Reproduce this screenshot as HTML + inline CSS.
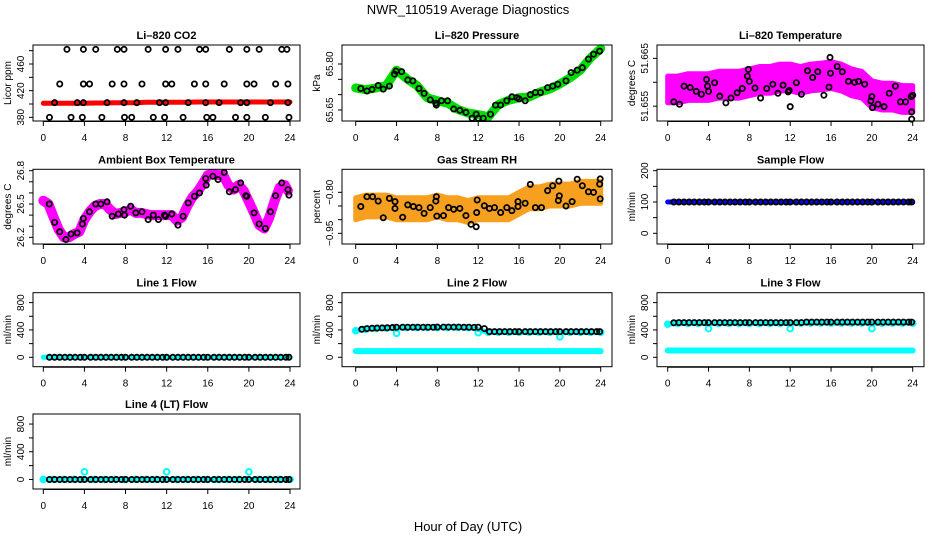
<!DOCTYPE html>
<html><head><meta charset="utf-8"><style>
html,body{margin:0;padding:0;background:#fff}
svg{display:block;font-family:"Liberation Sans",sans-serif}
</style></head><body>
<svg id="c" width="936" height="540" xmlns="http://www.w3.org/2000/svg">
<text x="468" y="14" text-anchor="middle" font-size="13">NWR_110519  Average Diagnostics</text>
<text x="468" y="531" text-anchor="middle" font-size="13">Hour of Day (UTC)</text>
</svg>
<script>
// ---- data ----
const xTicks=[0,4,8,12,16,20,24];
const co2Hours=[2.3,3.9,5.1,7.2,7.85,10.2,11.9,13.1,15.2,15.8,18.1,19.8,21.0,23.2,23.7,1.6,3.9,4.5,6.7,7.85,9.6,11.9,12.5,14.7,15.8,17.6,19.8,20.5,22.6,23.8,1.1,3.3,3.9,6.2,7.85,9.1,11.3,11.9,14.1,15.8,17.1,19.2,19.8,22.1,23.8,0.6,2.7,3.8,5.7,7.9,8.6,10.7,11.8,13.6,15.9,16.5,18.7,19.8,21.6,23.9];
const co2Vals=[482,482,482,482,482,482,482,482,482,482,482,482,482,482,482,430,430,430,430,430,430,430,430,430,430,430,430,430,430,430,402,402,402,402,402,402,402,402,402,402,402,402,402,402,402,380,380,380,380,380,380,380,380,380,380,380,380,380,380,380];
const hourly=[0,1,2,3,4,5,6,7,8,9,10,11,12,13,14,15,16,17,18,19,20,21,22,23,24];
const co2Cloud=[401,401,401,401,401,401.5,401.5,402,402,402,402.5,402.5,402.5,402.5,402.5,403,403,403,403,403,403,403,403,403,403];
const presHours=[0.5,1.1,1.6,2.2,2.7,3.3,3.8,3.95,4.5,5.1,5.6,6.2,6.7,7.3,7.85,7.9,8.4,9.0,9.6,10.2,10.8,11.4,11.8,12.0,12.5,13.2,13.7,14.2,14.8,15.3,15.8,16.0,16.6,17.1,17.6,18.1,18.8,19.3,19.8,20.6,21.1,21.7,22.2,22.8,23.3,23.9];
const presVals=[65.72,65.712,65.717,65.73,65.718,65.728,65.767,65.777,65.775,65.748,65.745,65.72,65.704,65.683,65.672,65.666,65.68,65.68,65.653,65.649,65.642,65.623,65.636,65.623,65.623,65.636,65.666,65.666,65.68,65.693,65.69,65.686,65.68,65.70,65.707,65.707,65.723,65.728,65.734,65.745,65.772,65.78,65.788,65.816,65.832,65.842];
const presCloud=[65.722,65.716,65.722,65.73,65.78,65.752,65.73,65.69,65.68,65.672,65.652,65.64,65.635,65.628,65.668,65.682,65.69,65.692,65.708,65.718,65.735,65.755,65.78,65.82,65.85];
const tempHours=[0.6,1.15,1.6,2.2,2.8,3.3,3.8,3.9,4.0,4.6,5.1,5.7,6.2,6.8,7.3,7.8,7.9,8.0,8.55,9.1,9.7,10.3,10.8,11.3,11.8,11.9,12.0,12.6,13.1,13.7,14.2,14.7,15.3,15.8,15.9,15.95,16.6,17.1,17.7,18.3,18.7,19.3,19.9,20.0,20.05,20.6,21.2,21.7,22.3,22.8,23.3,23.85,23.9,23.9,24.0];
const tempVals=[51.6559,51.6554,51.6592,51.6589,51.6581,51.6575,51.6606,51.6592,51.6581,51.6599,51.6571,51.6557,51.6567,51.6578,51.6587,51.6613,51.6627,51.6602,51.6588,51.6567,51.6587,51.6596,51.6577,51.6594,51.658,51.6583,51.6549,51.6599,51.6575,51.6624,51.661,51.6622,51.6573,51.659,51.6652,51.6619,51.6633,51.6622,51.6602,51.66,51.6602,51.6596,51.6561,51.657,51.6547,51.6554,51.6549,51.6577,51.6592,51.6559,51.6559,51.657,51.6538,51.6523,51.6573];
const tempCloud=[51.6585,51.6585,51.659,51.659,51.659,51.6595,51.6595,51.6595,51.66,51.6605,51.6605,51.661,51.661,51.6605,51.661,51.6612,51.6615,51.661,51.66,51.6595,51.6575,51.657,51.657,51.6565,51.6565];
const ambHours=[0.58,1.1,1.6,2.2,2.7,3.3,3.8,3.9,4.5,5.1,5.6,6.2,6.7,7.3,7.85,7.9,8.5,9.0,9.6,10.2,10.7,11.2,11.8,11.9,12.5,13.1,13.6,14.1,14.7,15.2,15.8,15.85,16.5,17.0,17.6,18.1,18.7,19.2,19.7,19.8,20.5,21.0,21.6,22.1,22.6,23.2,23.8,23.9];
const ambVals=[26.5,26.335,26.25,26.18,26.23,26.24,26.32,26.37,26.43,26.5,26.5,26.52,26.39,26.41,26.45,26.4,26.48,26.42,26.43,26.36,26.4,26.36,26.4,26.39,26.41,26.31,26.39,26.51,26.57,26.6,26.73,26.67,26.75,26.72,26.785,26.61,26.63,26.69,26.575,26.57,26.42,26.32,26.28,26.43,26.575,26.69,26.63,26.58];
const ambCloudHours=[0,0.5,1,1.5,2,2.5,3,3.5,4,4.5,5,5.5,6,6.5,7,7.5,8,8.5,9,9.5,10,10.5,11,11.5,12,12.5,13,13.5,14,14.5,15,15.5,16,16.5,17,17.5,18,18.5,19,19.5,20,20.5,21,21.5,22,22.5,23,23.5,23.8];
const ambCloud=[26.53,26.5,26.38,26.27,26.2,26.2,26.23,26.25,26.36,26.43,26.48,26.5,26.5,26.45,26.41,26.42,26.43,26.45,26.42,26.42,26.41,26.4,26.4,26.4,26.4,26.4,26.35,26.38,26.48,26.56,26.61,26.68,26.76,26.77,26.76,26.76,26.67,26.63,26.67,26.62,26.52,26.42,26.31,26.28,26.38,26.53,26.65,26.67,26.62];
const rhHours=[0.5,1.1,1.65,2.2,2.7,3.3,3.85,3.85,4.6,5.1,5.65,6.2,6.7,7.3,7.85,7.9,7.95,8.6,9.1,9.6,10.2,10.8,11.3,11.8,11.9,11.85,12.6,13.1,13.6,14.2,14.8,15.3,15.9,15.9,16.6,17.1,17.6,18.2,18.8,19.3,19.9,19.95,19.85,20.6,21.2,21.7,22.2,22.8,23.3,23.9,23.95,23.95];
const rhVals=[-0.852,-0.816,-0.816,-0.832,-0.893,-0.822,-0.834,-0.859,-0.891,-0.846,-0.852,-0.856,-0.877,-0.856,-0.832,-0.816,-0.887,-0.885,-0.856,-0.862,-0.859,-0.885,-0.917,-0.926,-0.828,-0.874,-0.849,-0.859,-0.856,-0.874,-0.856,-0.867,-0.834,-0.852,-0.84,-0.771,-0.856,-0.856,-0.794,-0.776,-0.759,-0.813,-0.83,-0.85,-0.834,-0.752,-0.776,-0.798,-0.8,-0.77,-0.751,-0.824];
const rhCloud=[-0.86,-0.85,-0.85,-0.85,-0.86,-0.86,-0.86,-0.86,-0.85,-0.86,-0.86,-0.87,-0.86,-0.86,-0.86,-0.86,-0.84,-0.82,-0.82,-0.81,-0.81,-0.81,-0.8,-0.8,-0.8];
const flowHours=[0.6,1.1,1.6,2.1,2.6,3.1,3.6,4.0,4.6,5.1,5.6,6.1,6.6,7.1,7.6,8.0,8.6,9.1,9.6,10.1,10.6,11.1,11.6,12.0,12.6,13.1,13.6,14.1,14.6,15.1,15.6,16.0,16.6,17.1,17.6,18.1,18.6,19.1,19.6,20.0,20.6,21.1,21.6,22.1,22.6,23.1,23.6,23.9];
const sampleFlow=[100,100,100,100,100,100,100,100,100,100,100,100,100,100,100,100,100,100,100,100,100,100,100,100,100,100,100,100,100,100,100,100,100,100,100,100,100,100,100,100,100,100,100,100,100,100,100,100];
const line1Flow=[0,0,0,0,0,0,0,0,0,0,0,0,0,0,0,0,0,0,0,0,0,0,0,0,0,0,0,0,0,0,0,0,0,0,0,0,0,0,0,0,0,0,0,0,0,0,0,0];
const line2Flow=[410,420,425,428,430,432,435,440,440,440,440,440,440,440,440,442,442,442,442,442,440,440,438,440,420,375,375,375,375,375,375,375,375,375,375,375,375,375,375,375,375,375,375,375,375,375,375,375];
const line3Flow=[505,508,508,508,508,508,508,508,508,508,508,508,508,508,508,508,508,508,508,508,508,508,508,508,508,508,515,515,515,515,515,515,515,515,515,515,515,515,515,515,515,515,515,515,515,515,515,515];
const line4Flow=[0,0,0,0,0,0,0,0,0,0,0,0,0,0,0,0,0,0,0,0,0,0,0,0,0,0,0,0,0,0,0,0,0,0,0,0,0,0,0,0,0,0,0,0,0,0,0,0];
const cyanHours=[0,1,2,3,4,5,6,7,8,9,10,11,12,13,14,15,16,17,18,19,20,21,22,23,24];
const line2CyanHi=[390,410,420,425,350,435,435,435,435,435,435,435,360,365,365,365,365,365,365,365,300,365,365,365,365];
const line2CyanLo=[90,90,90,90,90,90,90,90,90,90,90,90,90,90,90,90,90,90,90,90,90,90,90,90,90];
const line3CyanHi=[485,495,495,495,420,495,495,495,495,495,495,495,420,500,500,500,500,500,500,500,420,500,500,500,500];
const line3CyanLo=[100,100,100,100,100,100,100,100,100,100,100,100,100,100,100,100,100,100,100,100,100,100,100,100,100];
const line4Cyan=[0,0,0,0,110,0,0,0,0,0,0,0,110,0,0,0,0,0,0,0,110,0,0,0,0];
const line1Cyan=[0,0,0,0,0,0,0,0,0,0,0,0,0,0,0,0,0,0,0,0,0,0,0,0,0];
// ---- layout ----
const NS="http://www.w3.org/2000/svg";
const svg=document.getElementById('c');
const cols=[{l:33,r:300,xa:43.3,xb:290},{l:342,r:612,xa:355.7,xb:600.7},{l:657,r:924,xa:667.7,xb:912.7}];
const rows=[{t:45,b:121},{t:169.3,b:244},{t:292.7,b:366.7},{t:414,b:489}];
function mk(tag,attrs,parent){const e=document.createElementNS(NS,tag);for(const k in attrs)e.setAttribute(k,attrs[k]);(parent||svg).appendChild(e);return e;}
function panel(name,ci,ri,title,ytitle,ymin,ymax,ticks,labels){
  const c=cols[ci],r=rows[ri];
  const g=mk('g',{});
  
  
  const P={g,c,r,x:h=>c.xa+(h/24)*(c.xb-c.xa),y:v=>r.b-(v-ymin)/(ymax-ymin)*(r.b-r.t)};
  P.finish=function(){
    const box=mk('rect',{x:c.l,y:r.t,width:c.r-c.l,height:r.b-r.t,fill:'none',stroke:'#000','stroke-width':1},g);
    
    
    const tt=mk('text',{x:(c.l+c.r)/2,y:r.t-6,'text-anchor':'middle','font-size':11,'font-weight':'bold'},g);
    tt.textContent=title;
    
    
    const yt=mk('text',{x:c.l-22,y:(r.t+r.b)/2,'text-anchor':'middle','font-size':10,transform:`rotate(-90 ${c.l-22} ${(r.t+r.b)/2})`},g);
    yt.textContent=ytitle;
    
    
    for(const tv of ticks){const yy=P.y(tv);mk('line',{x1:c.l-4,x2:c.l,y1:yy,y2:yy,stroke:'#000'},g);}
    for(let i=0;i<labels.length;i++){const yy=P.y(labels[i][0]);const t=mk('text',{x:c.l-9,y:yy,'text-anchor':'middle','font-size':10,transform:`rotate(-90 ${c.l-9} ${yy})`},g);t.textContent=labels[i][1];
      
      }
    mk('line',{x1:P.x(0),x2:P.x(24),y1:r.b+0.5,y2:r.b+0.5,stroke:'#000'},g);
    for(const h of xTicks){const xx=P.x(h);mk('line',{x1:xx,x2:xx,y1:r.b,y2:r.b+5,stroke:'#000'},g);
      const t=mk('text',{x:xx,y:r.b+20,'text-anchor':'middle','font-size':10},g);t.textContent=h;
      
      }
  };
  return P;
}
function pts(P,hs,vs,color,nm,rad,sw){
  for(let i=0;i<hs.length;i++){const e=mk('circle',{cx:P.x(hs[i]),cy:P.y(vs[i]),r:rad||2.6,fill:'none',stroke:color,'stroke-width':sw||1.8},P.g);
    
    }
}
function band(P,hs,vs,color,w,nm){
  const d=hs.map((h,i)=>(i?'L':'M')+P.x(h).toFixed(1)+' '+P.y(vs[i]).toFixed(1)).join(' ');
  const e=mk('path',{d,fill:'none',stroke:color,'stroke-width':w,'stroke-linecap':'round','stroke-linejoin':'round'},P.g);
  
  
}
function area(P,hs,vs,hw,color,nm){
  const up=hs.map((h,i)=>P.x(h).toFixed(1)+' '+P.y(vs[i]+hw).toFixed(1));
  const dn=hs.map((h,i)=>P.x(h).toFixed(1)+' '+P.y(vs[i]-hw).toFixed(1)).reverse();
  const e=mk('path',{d:'M'+up.join(' L')+' L'+dn.join(' L')+'Z',fill:color,stroke:color,'stroke-width':5,'stroke-linejoin':'round'},P.g);
  
  
}
const flowTicks=[0,200,400,600,800],flowLabels=[[0,'0'],[400,'400'],[800,'800']];
let P=panel('co2',0,0,'Li\u2013820 CO2','Licor ppm',374.5,488.5,[380,400,420,440,460,480],[[380,'380'],[420,'420'],[460,'460']]);
band(P,hourly,co2Cloud,'#ff0000',5,'co2-cloud');pts(P,co2Hours,co2Vals,'#000','co2-point');P.finish();
P=panel('pressure',1,0,'Li\u2013820 Pressure','kPa',65.614,65.862,[65.65,65.70,65.75,65.80],[[65.65,'65.65'],[65.80,'65.80']]);
band(P,hourly,presCloud,'#00dd00',9,'pressure-cloud');pts(P,presHours,presVals,'#000','pressure-point');P.finish();
P=panel('li820-temp',2,0,'Li\u2013820 Temperature','degrees C',51.6519,51.6678,[51.655,51.66,51.665],[[51.655,'51.655'],[51.665,'51.665']]);
area(P,hourly,tempCloud,0.0028,'#ff00ff','temp-cloud');pts(P,tempHours,tempVals,'#000','temp-point');P.finish();
P=panel('ambient-temp',0,1,'Ambient Box Temperature','degrees C',26.14,26.8126,[26.2,26.3,26.4,26.5,26.6,26.7,26.8],[[26.2,'26.2'],[26.5,'26.5'],[26.8,'26.8']]);
band(P,ambCloudHours,ambCloud,'#ff00ff',10,'ambient-cloud');pts(P,ambHours,ambVals,'#000','ambient-point');P.finish();
P=panel('rh',1,1,'Gas Stream RH','percent',-0.989,-0.7158,[-0.95,-0.9,-0.85,-0.8],[[-0.95,'\u22120.95'],[-0.8,'\u22120.80']]);
area(P,hourly,rhCloud,0.04,'#f7a020','rh-cloud');pts(P,rhHours,rhVals,'#000','rh-point');P.finish();
P=panel('sample-flow',2,1,'Sample Flow','ml/min',-34.2,204.5,[0,50,100,150,200],[[0,'0'],[100,'100'],[200,'200']]);
band(P,cyanHours,sampleFlow.slice(0,25),'#0000ff',5,'sample-flow-band');pts(P,flowHours,sampleFlow,'#000','sample-flow-point');P.finish();
P=panel('line1-flow',0,2,'Line 1 Flow','ml/min',-137.6,945,flowTicks,flowLabels);
band(P,cyanHours,line1Cyan,'#00ffff',5,'line1-cyan');pts(P,flowHours,line1Flow,'#000','line1-point');P.finish();
P=panel('line2-flow',1,2,'Line 2 Flow','ml/min',-137.6,945,flowTicks,flowLabels);
band(P,cyanHours,line2CyanLo,'#00ffff',6,'line2-cyan-low');
pts(P,cyanHours,line2CyanHi,'#00ffff','line2-cyan-point',2.8,2);
band(P,cyanHours,line2CyanHi.map((v,i)=>[4,12,20].includes(cyanHours[i])?line2Flow[Math.min(47,i*2)]-15:v),'#00ffff',5,'line2-cyan-high');
pts(P,flowHours,line2Flow,'#000','line2-point');P.finish();
P=panel('line3-flow',2,2,'Line 3 Flow','ml/min',-137.6,945,flowTicks,flowLabels);
band(P,cyanHours,line3CyanLo,'#00ffff',6,'line3-cyan-low');
pts(P,cyanHours,line3CyanHi,'#00ffff','line3-cyan-point',2.8,2);
band(P,cyanHours,line3CyanHi.map((v,i)=>[4,12,20].includes(cyanHours[i])?495:v),'#00ffff',5,'line3-cyan-high');
pts(P,flowHours,line3Flow,'#000','line3-point');P.finish();
P=panel('line4-flow',0,3,'Line 4 (LT) Flow','ml/min',-137.6,945,flowTicks,flowLabels);
band(P,cyanHours,line1Cyan,'#00ffff',5,'line4-cyan');
pts(P,cyanHours,line4Cyan,'#00ffff','line4-cyan-point',2.8,2);
pts(P,flowHours,line4Flow,'#000','line4-point');P.finish();
</script>
</body></html>
